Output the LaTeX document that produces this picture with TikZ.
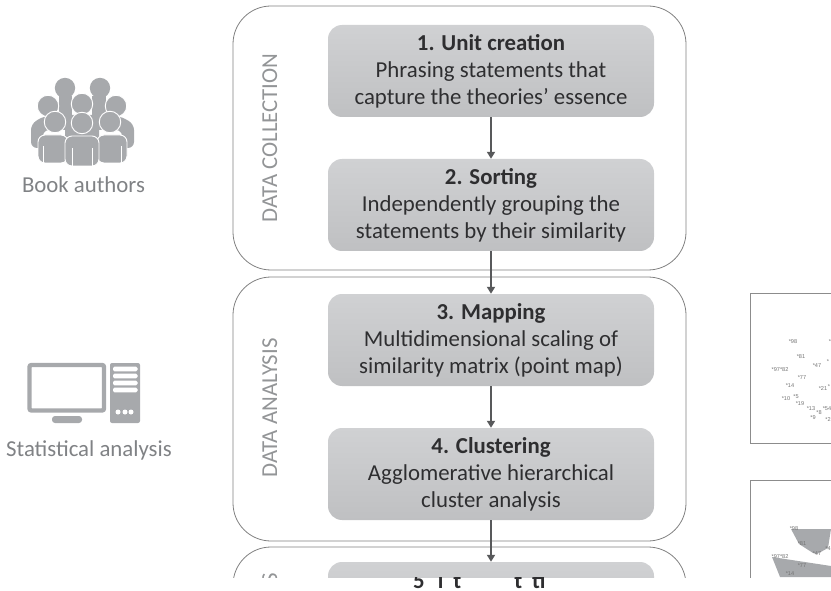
\documentclass[tikz,border=0pt]{standalone}
\usepackage{fontspec}
\setmainfont{Carlito}
\newfontfamily\ptfont{Liberation Sans}
\usetikzlibrary{arrows.meta}
\definecolor{txt}{HTML}{2E2E30}
\definecolor{lab}{HTML}{808285}
\definecolor{icon}{HTML}{A7A9AC}
\definecolor{arr}{HTML}{58595B}
\definecolor{BoxTop}{HTML}{D0D1D3}
\definecolor{BoxBot}{HTML}{BFC0C2}
\tikzset{
  outerbox/.style={draw=black!50,line width=0.8pt,rounded corners=38pt,minimum width=453pt,inner sep=0pt},
  stepbox/.style={rounded corners=14pt,minimum width=326pt,inner sep=0pt,top color=BoxTop,bottom color=BoxBot,text=txt,align=center,font=\fontsize{22.8}{27}\selectfont},
  flow/.style={draw=arr,line width=2.4pt,-{Triangle[length=7pt,width=8pt]}},
  sidelabel/.style={rotate=90,inner sep=0pt,text=lab!85,font=\fontsize{22.8}{24}\selectfont},
  caption/.style={text=lab,font=\fontsize{22.8}{24}\selectfont},
  ptlabel/.style={text=black!55,font=\ptfont\fontsize{5.6}{6}\selectfont,inner sep=0pt},
  frame/.style={draw=black!45,line width=0.9pt},
  head/.style={fill=icon,draw=white,line width=0.9pt,circle,minimum size=21.5pt,inner sep=0pt},
  body/.style={fill=icon,draw=white,line width=0.9pt,rounded corners=7pt},
}
\begin{document}
\begin{tikzpicture}[x=1pt,y=-1pt]
\useasboundingbox (0,0) rectangle (831,591);
% outer panels
\node[outerbox,minimum height=264pt] (collect) at (459.5,138) {};
\node[outerbox,minimum height=264pt] (analyse) at (459.5,409) {};
% step boxes
\node[stepbox,minimum height=92pt] (s1) at (491,71) {\textbf{1. Unit creation}\\Phrasing statements that\\capture the theories’ essence};
\node[stepbox,minimum height=92pt] (s2) at (491,205) {\textbf{2. Sorting}\\Independently grouping the\\statements by their similarity};
\node[stepbox,minimum height=92pt] (s3) at (491,340) {\textbf{3. Mapping}\\Multidimensional scaling of\\similarity matrix (point map)};
\node[stepbox,minimum height=92pt] (s4) at (491,474) {\textbf{4. Clustering}\\Agglomerative hierarchical\\cluster analysis};
\begin{scope}
\clip (0,0) rectangle (831,577);
\node[outerbox,minimum height=264pt] (third) at (459.5,679) {};
\node[stepbox,minimum height=92pt] (s5) at (491,608) {};
\node[sidelabel,anchor=base east] (sideC) at (277,573) {S};
\fill[icon] (791,529) -- (831,529) -- (828,548) -- (817,554) -- (813,553) -- (799,544) -- cycle;
\fill[icon] (772,557) -- (831,566) -- (831,577) -- (780,577) -- cycle;
\draw[frame] (831,480.5) -- (750.5,480.5) -- (750.5,591);
\foreach \px/\py/\lbl in {794/529/98,802/544/81,817/554/47,780/557/97*82,802/566/77,790/574/14,828/549/4}
  \node[ptlabel] at (\px,\py) {*\lbl};
\end{scope}
\draw[flow] (s1.south) -- (s2.north);
\draw[flow] (s2.south) -- (s3.north);
\draw[flow] (s3.south) -- (s4.north);
\draw[flow] (s4.south) -- (s5.north);
\node[sidelabel,anchor=base] (sideA) at (277,138) {DATA COLLECTION};
\node[sidelabel,anchor=base] (sideB) at (277,408) {DATA ANALYSIS};
% clipped title of step 5
\begin{scope}
\clip (328,577) rectangle (654,591);
\node[text=txt,anchor=base west,inner sep=0pt,font=\fontsize{22.8}{24}\selectfont\bfseries] (t5) at (413,588) {5\hspace{13pt}l\hspace{10pt}t\hspace{53pt}t\hspace{10pt}ti};
\end{scope}
% people icon
\foreach \hx/\hy in {65/88,100/88}{\fill[icon] (\hx,\hy) circle (10.2pt);}
\fill[icon] (59,96) rectangle (72,118);
\fill[icon] (92,96) rectangle (106,118);
\fill[icon,rounded corners=6pt] (31,148) -- (31,124) -- (44,116) -- (120,116) -- (134,124) -- (134,148) -- (122,148) -- (122,130) -- (43,130) -- (43,148) -- cycle;
\fill[icon,rounded corners=7pt] (65,145) -- (65,115) -- (99,115) -- (99,145) -- cycle;
\foreach \hx/\hy in {48/106,82/104,116/106}{\node[head] at (\hx,\hy) {};}
\fill[body] (38,163) -- (38,135) -- (68,135) -- (68,163) -- cycle;
\fill[body] (97,163) -- (97,135) -- (127,135) -- (127,163) -- cycle;
\fill[body] (65,166) -- (65,136) -- (99,136) -- (99,166) -- cycle;
\draw[white,line width=0.9pt] (43,146) -- (43,163) (72,148) -- (72,166) (92.5,148) -- (92.5,166) (121.5,146) -- (121.5,163);
\foreach \hx/\hy in {55/122,82/123,110/122}{\node[head] at (\hx,\hy) {};}
\node[caption] (cap1) at (83.5,185) {Book authors};
% computer icon
\draw[icon,line width=4.4pt,rounded corners=2pt] (29.5,365) rectangle (104,410.5);
\fill[icon,rounded corners=3pt] (52,416) rectangle (82,423);
\fill[icon,rounded corners=2pt] (110,363) rectangle (140,423);
\foreach \sy in {369,376,383,390}{\fill[white,rounded corners=1.5pt] (113,\sy-2.3) rectangle (137.5,\sy+2.3);}
\foreach \dx in {118,125,131}{\fill[white] (\dx,412) circle (2.5pt);}
\node[caption] (cap2) at (89,450) {Statistical analysis};
% point map
\draw[frame] (831,293.5) -- (750.5,293.5) -- (750.5,443.5) -- (831,443.5);
\foreach \px/\py/\lbl in {793/342/98,801/357/81,817/366/47,780/370/97*82,802/378/77,790/386/14,823/389/21,786/399/10,796/397/5,800/404/19,811/409/13,827/409/54,819/413/8,813/418/9,828/420/2}
  \node[ptlabel] at (\px,\py) {*\lbl};
\foreach \px/\py in {830/342,828/362,829/387}
  \node[ptlabel] at (\px,\py) {*};
\end{tikzpicture}
\end{document}
